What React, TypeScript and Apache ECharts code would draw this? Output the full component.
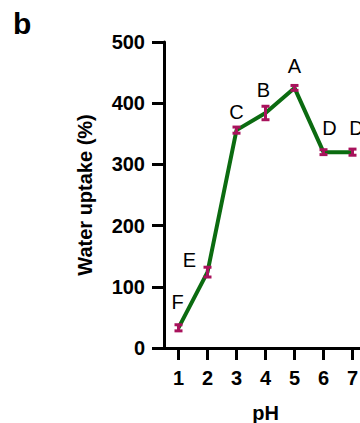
import React, { useEffect, useRef } from "react";
import * as echarts from "echarts";

const phCategories = ["1", "2", "3", "4", "5", "6", "7"];
const uptakeMeans = [33, 124, 356, 384, 425, 320, 320];
const uptakeErrors = [5, 8, 5, 11, 4, 4, 5];
const groupLetters = ["F", "E", "C", "B", "A", "D", "D"];
const yTicks = [0, 100, 200, 300, 400, 500];

export default function App() {
  const ref = useRef<HTMLDivElement>(null);
  useEffect(() => {
    if (!ref.current) return;
    const chart = echarts.init(ref.current, null, { renderer: "svg" });
    const letterOffsets: number[][] = [
      [-1, -26],
      [-18, -12],
      [0, -18],
      [-2, -23],
      [0, -22],
      [6, -24],
      [4, -24],
    ];
    const font = "'Liberation Sans', Arial, Helvetica, sans-serif";
    const errData = uptakeMeans.map((m, i) => [i, m, uptakeErrors[i]]);
    chart.setOption({
      animation: false,
      backgroundColor: "#ffffff",
      textStyle: { fontFamily: font },
      graphic: [
        {
          type: "text",
          left: 13,
          top: 8,
          style: { text: "b", font: `bold 30px ${font}`, fill: "#000" },
        },
      ],
      grid: { left: 164, top: 42, height: 306, width: 203, containLabel: false, outerBoundsMode: "none" },
      xAxis: {
        type: "category",
        data: phCategories,
        boundaryGap: true,
        name: "pH",
        nameLocation: "middle",
        nameGap: 55,
        nameTextStyle: { fontFamily: font, fontWeight: "bold", fontSize: 20, color: "#000" },
        axisLine: { show: true, lineStyle: { color: "#000", width: 3 } },
        axisTick: { show: true, alignWithLabel: true, length: 12, lineStyle: { color: "#000", width: 3 } },
        axisLabel: { fontFamily: font, fontWeight: "bold", fontSize: 20, color: "#000", margin: 20 },
        splitLine: { show: false },
      },
      yAxis: {
        type: "value",
        min: yTicks[0],
        max: yTicks[yTicks.length - 1],
        interval: 100,
        name: "Water uptake (%)",
        nameLocation: "middle",
        nameGap: 69,
        nameTextStyle: { fontFamily: font, fontWeight: "bold", fontSize: 20, color: "#000" },
        axisLine: { show: true, lineStyle: { color: "#000", width: 3 } },
        axisTick: { show: true, length: 12, lineStyle: { color: "#000", width: 3 } },
        axisLabel: { fontFamily: font, fontWeight: "bold", fontSize: 20, color: "#000", margin: 19 },
        splitLine: { show: false },
      },
      series: [
        {
          type: "line",
          data: uptakeMeans,
          symbol: "none",
          lineStyle: { color: "#0b6b10", width: 4 },
          z: 2,
        },
        {
          type: "custom",
          data: errData,
          z: 3,
          renderItem: (params: any, api: any) => {
            const idx = api.value(0);
            const m = api.value(1);
            const e = api.value(2);
            const top = api.coord([idx, m + e]);
            const bot = api.coord([idx, m - e]);
            const mid = api.coord([idx, m]);
            const cap = 4;
            const stroke = { stroke: "#a8125c", lineWidth: 3 };
            const off = letterOffsets[params.dataIndex] || [0, -20];
            return {
              type: "group",
              children: [
                { type: "line", shape: { x1: top[0], y1: top[1], x2: bot[0], y2: bot[1] }, style: stroke },
                { type: "line", shape: { x1: top[0] - cap, y1: top[1], x2: top[0] + cap, y2: top[1] }, style: stroke },
                { type: "line", shape: { x1: bot[0] - cap, y1: bot[1], x2: bot[0] + cap, y2: bot[1] }, style: stroke },
                {
                  type: "text",
                  x: mid[0] + off[0],
                  y: mid[1] + off[1],
                  style: {
                    text: groupLetters[params.dataIndex],
                    font: `20px ${font}`,
                    fill: "#000",
                    align: "center",
                    verticalAlign: "middle",
                  },
                },
              ],
            };
          },
        },
      ],
    });
    return () => chart.dispose();
  }, []);
  return <div ref={ref} style={{ position: "absolute", left: 0, top: 0, width: 360, height: 423 }} />;
}
